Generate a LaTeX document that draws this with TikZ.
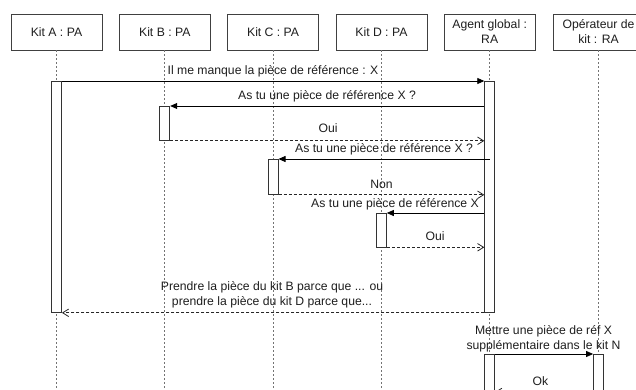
\documentclass[tikz,border=0pt]{standalone}
\usepackage{fontspec}
\setmainfont{Liberation Sans}
\usetikzlibrary{arrows.meta}
\begin{document}
\begin{tikzpicture}[x=1pt,y=-1pt,
  every node/.style={font=\fontsize{12.2}{15}\selectfont, text=black!88},
  head/.style={draw=black!75, line width=0.8pt, fill=white, minimum width=91pt, minimum height=36pt, inner sep=0pt, align=center},
  act/.style={draw=black!80, line width=0.8pt, fill=white, minimum width=10pt, inner sep=0pt, anchor=north},
  life/.style={draw=black!55, line width=0.9pt, dash pattern=on 2pt off 2pt},
  call/.style={draw=black, line width=0.8pt, -{Triangle[length=7pt,width=6pt]}},
  ret/.style={draw=black!85, line width=0.8pt, dash pattern=on 3pt off 2pt, -{Straight Barb[length=6pt,width=7.5pt,line width=0.8pt]}},
  lbl/.style={inner sep=0pt, anchor=base},
  lbltwo/.style={inner sep=0pt, align=center}
]
\useasboundingbox (0,0) rectangle (636,390);
\clip (0,0) rectangle (636,390);
\fill[white] (0,0) rectangle (636,390);

% heads
\node[head] (hA) at (56.5,32) {Kit A : PA};
\node[head] (hB) at (164.8,32) {Kit B : PA};
\node[head] (hC) at (273.1,32) {Kit C : PA};
\node[head] (hD) at (381.4,32) {Kit D : PA};
\node[head] (hR) at (489.7,32) {Agent global :\\RA};
\node[head] (hO) at (598.5,32) {Opérateur de\\kit : RA};

\coordinate (bot) at (0,400);
\coordinate (okline) at (0,392);

% lifelines
\foreach \h in {hA,hB,hC,hD,hR,hO}
  \draw[life] (\h.south) -- (\h.south |- bot);

% activations
\node[act, minimum height=231pt] (aA) at (56.5,81) {};
\node[act, minimum height=231pt] (aR1) at (489.7,81) {};
\node[act, minimum height=34pt] (aB) at (164.8,106) {};
\node[act, minimum height=35pt] (aC) at (273.1,159) {};
\node[act, minimum height=33.5pt] (aD) at (381.4,213) {};
\node[act, minimum height=60pt] (aR2) at (489.7,354) {};
\node[act, minimum height=60pt] (aO) at (598.5,354) {};

% messages
\draw[call] (aA.north east) -- (aR1.north west);
\node[lbl] (m1) at (273,75) {Il me manque la pièce de référence : X};

\draw[call] (aR1.west |- aB.north) -- (aB.north east);
\node[lbl] (m2) at (327,100) {As tu une pièce de référence X ?};

\draw[ret] (aB.south east) -- (aR1.west |- aB.south);
\node[lbl] (m3) at (328,133) {Oui};

\draw[call] (hR.center |- aC.north) -- (aC.north east);
\node[lbl] (m4) at (384,153) {As tu une pièce de référence X ?};

\draw[ret] (aC.south east) -- (aR1.west |- aC.south);
\node[lbl] (m5) at (381.5,188) {Non};

\draw[call] (aR1.west |- aD.north) -- (aD.north east);
\node[lbl] (m6) at (395,207) {As tu une pièce de référence X};

\draw[ret] (aD.south east) -- (aR1.west |- aD.south);
\node[lbl] (m7) at (435,240) {Oui};

\draw[ret] (aR1.west |- aA.south) -- (aA.south east);
\node[lbltwo] (m8) at (272,295) {Prendre la pièce du kit B parce que ... ou\\prendre la pièce du kit D parce que...};

\draw[call] (aR2.north east) -- (aO.north west);
\node[lbltwo] (m9) at (543.5,338.5) {Mettre une pièce de réf X\\supplémentaire dans le kit N};

\draw[ret] (aO.west |- okline) -- (aR2.east |- okline);
\node[lbl] (m10) at (540.5,385) {Ok};
\end{tikzpicture}
\end{document}
